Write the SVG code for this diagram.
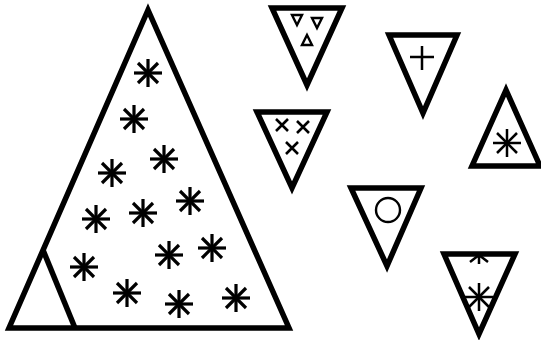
<svg xmlns="http://www.w3.org/2000/svg" width="541" height="340" viewBox="0 0 541 340">
<style>
.tri{fill:none;stroke:#000;stroke-width:5.5;stroke-linejoin:miter}
.ln{fill:none;stroke:#000;stroke-width:3.2;stroke-linecap:butt}
.thin{fill:none;stroke:#000;stroke-width:2.4}
</style>
<defs>
<g id="ast">
<line x1="-14" y1="0" x2="14" y2="0"/>
<line x1="0" y1="-14" x2="0" y2="14"/>
<line x1="-10" y1="-10" x2="10" y2="10"/>
<line x1="-10" y1="10" x2="10" y2="-10"/>
</g>
</defs>
<rect width="541" height="340" fill="#fff"/>
<g id="big">
<path class="tri" d="M148,10 L9,328 L289,328 Z"/>
<line class="tri" x1="43" y1="250" x2="75" y2="328"/>
<g class="ln">
<use href="#ast" x="148" y="73"/>
<use href="#ast" x="134" y="119"/>
<use href="#ast" x="164" y="159"/>
<use href="#ast" x="112" y="173"/>
<use href="#ast" x="190" y="201"/>
<use href="#ast" x="143" y="213"/>
<use href="#ast" x="96" y="219"/>
<use href="#ast" x="212" y="248"/>
<use href="#ast" x="169" y="255"/>
<use href="#ast" x="84" y="267"/>
<use href="#ast" x="127" y="293"/>
<use href="#ast" x="236" y="298"/>
<use href="#ast" x="179" y="304"/>
</g>
</g>
<g id="t1">
<path class="tri" d="M272,8 L342,8 L307,85 Z"/>
<path class="thin" d="M292,15 L302,15 L297,25 Z"/>
<path class="thin" d="M312,18 L322,18 L317,28 Z"/>
<path class="thin" d="M307,35 L312,45 L302,45 Z"/>
</g>
<g id="t2">
<path class="tri" d="M257,112 L327,112 L292,188 Z"/>
<g class="thin" style="stroke-width:2.6">
<path d="M276,119 L288,131 M288,119 L276,131"/>
<path d="M297,121 L309,133 M309,121 L297,133"/>
<path d="M286,142 L298,154 M298,142 L286,154"/>
</g>
</g>
<g id="t3">
<path class="tri" d="M389,35 L457,35 L423,113 Z"/>
<path class="ln" style="stroke-width:2.5" d="M410,57 L434,57 M422,46 L422,70"/>
</g>
<g id="t4">
<path class="tri" d="M506,90 L472,166 L540,166 Z"/>
<g class="ln" style="stroke-width:2.5"><use href="#ast" x="507" y="143"/></g>
</g>
<g id="t5">
<path class="tri" d="M351,188 L421,188 L387,266 Z"/>
<circle class="thin" cx="388" cy="210" r="12"/>
</g>
<g id="t6">
<path class="tri" d="M444,254 L515,254 L479,334 Z"/>
<g class="ln" style="stroke-width:2.5">
<path d="M479,255 L479,264 M479,255 L470,262 M479,255 L488,262"/>
<use href="#ast" x="479" y="297"/>
</g>
</g>
</svg>
